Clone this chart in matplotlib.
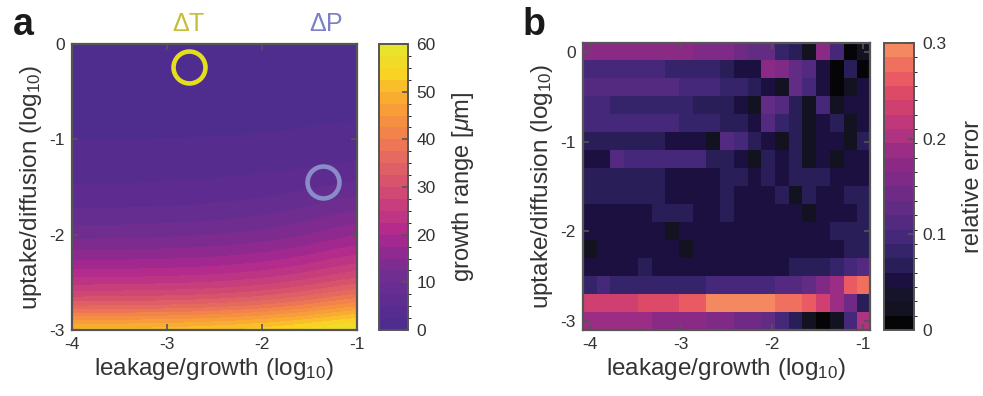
import numpy as np
import matplotlib.pyplot as plt
from matplotlib.colors import ListedColormap, LinearSegmentedColormap, BoundaryNorm

plt.rcParams['font.family'] = ['Liberation Sans', 'DejaVu Sans']
plt.rcParams['mathtext.fontset'] = 'custom'
plt.rcParams['mathtext.rm'] = 'Liberation Sans'
plt.rcParams['mathtext.it'] = 'Liberation Sans:italic'
plt.rcParams['mathtext.default'] = 'regular'
plt.rcParams['axes.unicode_minus'] = False

# growth range [um] on a coarse (uptake, leakage) grid, rows from log10 uptake 0 down to -3
leak_a = [-4.0, -3.5, -3.0, -2.5, -2.0, -1.5, -1.0]
uptake_a = [0.0, -0.25, -0.5, -0.75, -1.0, -1.25, -1.5, -1.75, -2.0, -2.25, -2.5, -2.75, -3.0]
growth_range = [
    [0.5, 0.5, 0.5, 0.6, 0.6, 0.8, 1.0],
    [0.8, 0.8, 0.8, 0.9, 0.9, 1.1, 1.3],
    [1.1, 1.1, 1.1, 1.2, 1.2, 1.4, 1.6],
    [1.6, 1.6, 1.6, 1.7, 1.8, 2.0, 2.3],
    [2.4, 2.4, 2.5, 2.5, 2.7, 3.0, 3.4],
    [3.7, 3.7, 3.8, 3.9, 4.1, 4.4, 5.0],
    [5.0, 5.1, 5.2, 5.5, 6.0, 6.9, 8.5],
    [7.6, 7.7, 7.9, 8.3, 9.1, 10.6, 13.0],
    [11.4, 11.5, 11.8, 12.2, 13.1, 14.8, 17.5],
    [16.7, 16.9, 17.1, 17.7, 18.7, 20.7, 24.0],
    [23.6, 23.8, 24.1, 24.6, 25.8, 28.0, 31.5],
    [33.5, 33.7, 34.1, 35.0, 36.8, 40.0, 45.0],
    [54.0, 54.2, 54.7, 55.5, 57.0, 59.0, 62.0],
]

# relative error of the approximation, 16 uptake rows (0 .. -3) x 21 leakage columns (-4 .. -1)
leak_b = np.linspace(-4, -1, 21)
uptake_b = np.linspace(0, -3, 16)
rel_error = [
    [.17, .17, .17, .17, .17, .17, .17, .17, .16, .16, .16, .14, .13, .13, .08, .07, .02, .17, .10, .01, .02],
    [.10, .10, .10, .10, .10, .10, .08, .08, .08, .08, .07, .05, .05, .17, .16, .13, .11, .05, .01, .07, .01],
    [.11, .11, .11, .11, .11, .11, .11, .10, .10, .10, .08, .08, .07, .05, .02, .13, .10, .05, .01, .02, .05],
    [.10, .10, .08, .08, .08, .08, .08, .08, .07, .07, .07, .05, .02, .13, .11, .07, .02, .10, .02, .05, .05],
    [.10, .10, .10, .10, .10, .10, .10, .08, .08, .08, .07, .07, .05, .11, .08, .07, .02, .05, .07, .02, .05],
    [.07, .07, .07, .07, .07, .07, .05, .05, .05, .02, .11, .10, .07, .05, .02, .07, .02, .05, .05, .02, .07],
    [.05, .05, .11, .10, .10, .10, .10, .10, .10, .07, .07, .05, .02, .07, .05, .07, .02, .05, .02, .05, .05],
    [.07, .07, .07, .07, .07, .07, .05, .05, .05, .05, .07, .07, .05, .07, .05, .07, .07, .07, .05, .05, .05],
    [.07, .07, .07, .07, .07, .07, .05, .05, .05, .05, .07, .05, .05, .05, .07, .02, .07, .05, .05, .07, .07],
    [.05, .05, .05, .05, .05, .07, .07, .07, .05, .05, .07, .05, .05, .05, .05, .05, .02, .05, .05, .05, .07],
    [.05, .05, .05, .05, .05, .05, .02, .05, .05, .05, .05, .05, .05, .05, .05, .05, .05, .05, .07, .07, .07],
    [.02, .05, .05, .05, .05, .05, .05, .02, .05, .05, .05, .05, .05, .05, .05, .05, .05, .05, .05, .07, .07],
    [.05, .05, .05, .05, .07, .05, .05, .05, .05, .05, .05, .05, .05, .05, .05, .07, .07, .07, .08, .10, .11],
    [.08, .10, .08, .08, .08, .08, .08, .08, .08, .10, .10, .10, .10, .10, .11, .11, .13, .16, .19, .26, .28],
    [.23, .23, .23, .23, .25, .25, .25, .26, .26, .29, .29, .29, .29, .29, .28, .28, .26, .23, .19, .14, .07],
    [.19, .19, .19, .19, .19, .17, .17, .17, .17, .16, .16, .14, .14, .13, .10, .07, .02, .01, .02, .10, .20],
]

# parameter sets used for the time-lapse (dT) and perturbation (dP) experiments
dT_point = (-2.77, -0.245)
dP_point = (-1.35, -1.445)

edge = '#555555'
txt = '#333333'

cmap_a = LinearSegmentedColormap.from_list('growth', [
    '#4e2d8f', '#5e2c90', '#6e2e90', '#8a2a90', '#b0288e', '#c43a80', '#d44e70',
    '#e26464', '#ee7a52', '#f69240', '#faae30', '#f8d424', '#e8e42c'])
cmap_a = ListedColormap(cmap_a(np.linspace(0, 1, 24)))
norm_a = BoundaryNorm(np.linspace(0, 60, 25), 24)

cmap_b = ListedColormap([
    '#050508', '#121220', '#16142a', '#1c1040', '#2a1e58', '#35246a', '#45287a',
    '#542a80', '#632c84', '#6e2a84', '#7e2a86', '#8a2a85', '#9c2d84', '#ae3380',
    '#c0387a', '#cf4070', '#dc4a68', '#ea5a62', '#f07060', '#f48860'])
norm_b = BoundaryNorm(np.linspace(0, 0.3, 21), 20)


def style_axes(ax):
    ax.tick_params(direction='in', top=True, right=True, length=4, width=1.2,
                   color=edge, labelcolor=txt, labelsize=12.5, pad=5)
    for s in ax.spines.values():
        s.set_color(edge)
        s.set_linewidth(1.6)


def style_cbar(cb):
    cb.outline.set_edgecolor(edge)
    cb.outline.set_linewidth(1.4)
    cb.ax.tick_params(direction='in', length=4, width=1.2, color=edge,
                      labelcolor=txt, labelsize=12.5, pad=6)


fig = plt.figure(figsize=(9.83, 3.96), dpi=100)
ax_a = fig.add_axes([0.0729, 0.1667, 0.290, 0.722])
cax_a = fig.add_axes([0.3856, 0.1667, 0.0295, 0.722])
ax_b = fig.add_axes([0.5928, 0.1667, 0.2923, 0.725])
cax_b = fig.add_axes([0.8993, 0.1667, 0.0305, 0.725])

# panel a: growth range map
dx = (leak_a[1] - leak_a[0]) / 2
dy = (uptake_a[0] - uptake_a[1]) / 2
im_a = ax_a.imshow(np.array(growth_range), cmap=cmap_a, norm=norm_a, origin='upper',
                   extent=[leak_a[0] - dx, leak_a[-1] + dx, uptake_a[-1] - dy, uptake_a[0] + dy],
                   interpolation='bicubic', interpolation_stage='data', aspect='auto')
ax_a.set_xlim(-4, -1)
ax_a.set_ylim(-3, 0)
ax_a.set_xticks([-4, -3, -2, -1])
ax_a.set_yticks([-3, -2, -1, 0])
style_axes(ax_a)
ax_a.set_xlabel('leakage/growth (log$_{10}$)', fontsize=17.5, color=txt, labelpad=3)
ax_a.set_ylabel('uptake/diffusion (log$_{10}$)', fontsize=17.5, color=txt, labelpad=4)

ax_a.plot(*dT_point, 'o', ms=23, mfc='none', mec='#e4df1c', mew=3.3, clip_on=False)
ax_a.plot(*dP_point, 'o', ms=23, mfc='none', mec='#8a8cc8', mew=3.3, clip_on=False)
ax_a.text(dT_point[0], 0.08, r'$\Delta$T', color='#c4bd36', fontsize=18,
          ha='center', va='bottom', clip_on=False)
ax_a.text(-1.32, 0.08, r'$\Delta$P', color='#7b7fc4', fontsize=18,
          ha='center', va='bottom', clip_on=False)

cb_a = fig.colorbar(im_a, cax=cax_a, ticks=np.arange(0, 61, 10))
style_cbar(cb_a)
cb_a.set_label('growth range [$\\mathit{\\mu}$m]', fontsize=17, color=txt, labelpad=10)

# panel b: relative error grid
hx = (leak_b[1] - leak_b[0]) / 2
hy = (uptake_b[0] - uptake_b[1]) / 2
im_b = ax_b.imshow(np.array(rel_error), cmap=cmap_b, norm=norm_b, origin='upper',
                   extent=[leak_b[0] - hx, leak_b[-1] + hx, uptake_b[-1] - hy, uptake_b[0] + hy],
                   interpolation='nearest', aspect='auto')
ax_b.set_xticks([-4, -3, -2, -1])
ax_b.set_yticks([-3, -2, -1, 0])
style_axes(ax_b)
ax_b.set_xlabel('leakage/growth (log$_{10}$)', fontsize=17.5, color=txt, labelpad=3)
ax_b.set_ylabel('uptake/diffusion (log$_{10}$)', fontsize=17.5, color=txt, labelpad=4)

cb_b = fig.colorbar(im_b, cax=cax_b, ticks=[0, 0.1, 0.2, 0.3])
cb_b.ax.set_yticklabels(['0', '0.1', '0.2', '0.3'])
style_cbar(cb_b)
cb_b.set_label('relative error', fontsize=17, color=txt, labelpad=11)

fig.text(0.013, 0.912, 'a', fontsize=27, fontweight='bold', color='#1a1a1a')
fig.text(0.532, 0.912, 'b', fontsize=27, fontweight='bold', color='#1a1a1a')

fig.savefig('out.png', dpi=100)
